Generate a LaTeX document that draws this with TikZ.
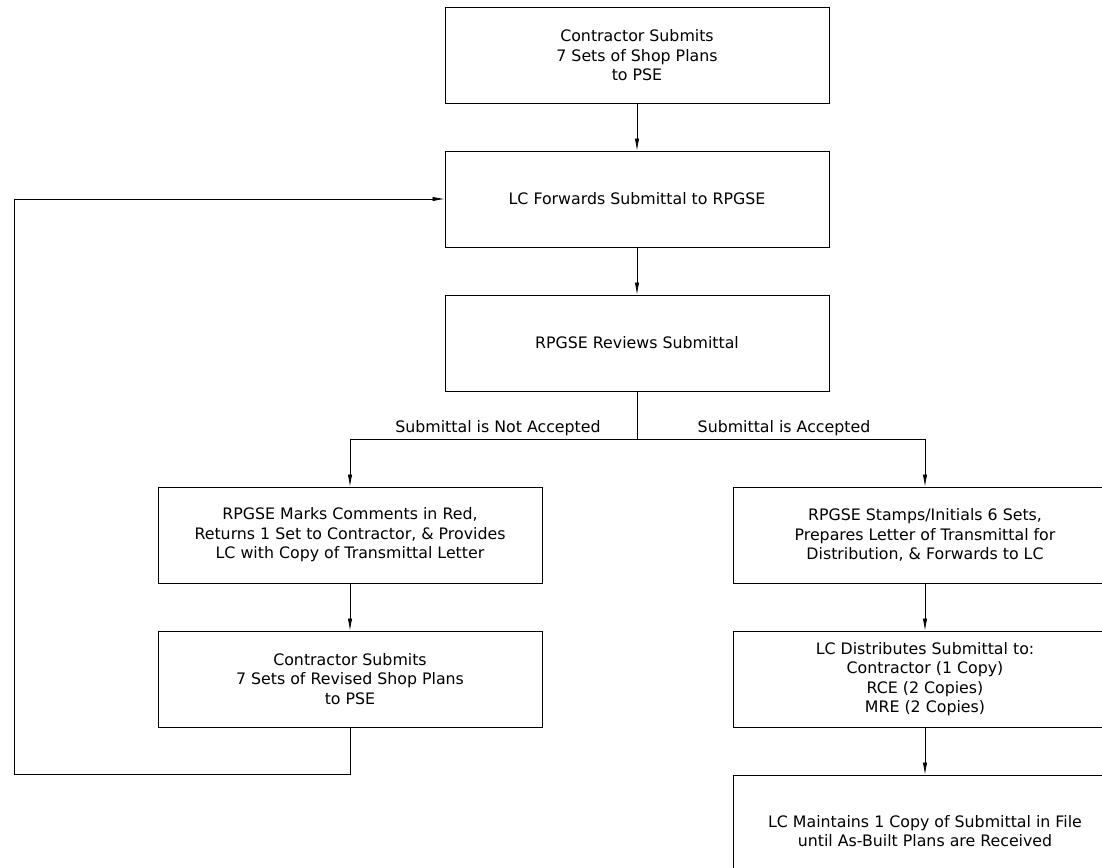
\documentclass[tikz,border=0pt]{standalone}
\usepackage{fontspec}
\setmainfont{DejaVu Sans}
\usetikzlibrary{arrows.meta}
\begin{document}
\begin{tikzpicture}[x=1pt,y=-1pt,
  box/.style={draw, line width=1pt, minimum width=384pt, minimum height=96pt, align=center,
              font=\fontsize{15.8}{19.5}\selectfont, inner sep=0pt},
  arr/.style={-{Latex[length=12pt,width=4.5pt]}, line width=0.7pt},
  lbl/.style={font=\fontsize{15.8}{19.5}\selectfont, inner sep=0pt}]
\useasboundingbox (0,0) rectangle (1102,867);
\clip (0,0) rectangle (1102,867);
\node[box] (n1) at (637,55.5) {Contractor Submits\\7 Sets of Shop Plans\\to PSE};
\node[box] (n2) at (637,199) {LC Forwards Submittal to RPGSE};
\node[box] (n3) at (637,343) {RPGSE Reviews Submittal};
\node[box] (l1) at (350,535) {RPGSE Marks Comments in Red,\\Returns 1 Set to Contractor, \& Provides\\LC with Copy of Transmittal Letter};
\node[box] (l2) at (350,679) {Contractor Submits\\7 Sets of Revised Shop Plans\\to PSE};
\node[box] (r1) at (925,535) {RPGSE Stamps/Initials 6 Sets,\\Prepares Letter of Transmittal for\\Distribution, \& Forwards to LC};
\node[box] (r2) at (925,679) {LC Distributes Submittal to:\\Contractor (1 Copy)\\RCE (2 Copies)\\MRE (2 Copies)};
\node[box, minimum height=112pt] (r3) at (925,831) {LC Maintains 1 Copy of Submittal in File\\until As-Built Plans are Received};
\coordinate (b) at (637,439);
\coordinate (c1) at (14,774);
\draw[arr] (n1.south) -- (n2.north);
\draw[arr] (n2.south) -- (n3.north);
\draw[line width=0.7pt] (n3.south) -- (b);
\draw[arr] (b) -| (l1.north);
\draw[arr] (b) -| (r1.north);
\draw[arr] (l1.south) -- (l2.north);
\draw[arr] (r1.south) -- (r2.north);
\draw[arr] (r2.south) -- (r3.north);
\draw[arr] (l2.south) |- (c1) |- (n2.west);
\node[lbl, anchor=base] (t1) at (498,432) {Submittal is Not Accepted};
\node[lbl, anchor=base] (t2) at (784,432) {Submittal is Accepted};
\end{tikzpicture}
\end{document}
